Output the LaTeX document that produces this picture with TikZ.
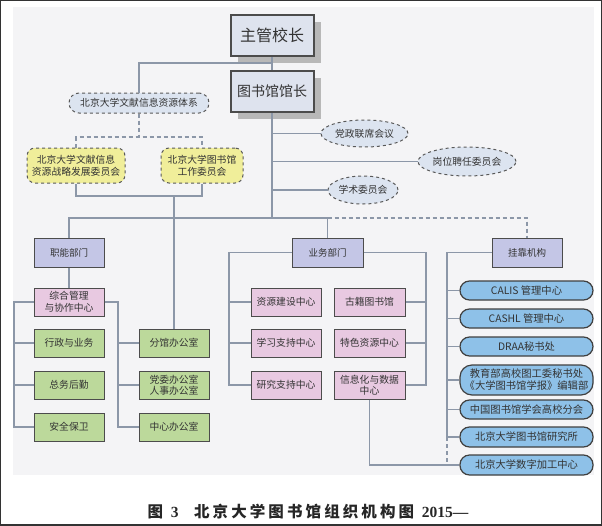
\documentclass[tikz,border=0pt]{standalone}
\usepackage{fontspec}
\setmainfont{Noto Sans CJK SC}
\newfontfamily\capnum{Liberation Serif}
\usetikzlibrary{shapes.geometric,shadows}
\definecolor{panelgray}{HTML}{F4F4F6}
\definecolor{linkgray}{HTML}{8C97A8}
\definecolor{headblue}{HTML}{DEE3EE}
\definecolor{paleblue}{HTML}{DCE4F0}
\definecolor{paleyellow}{HTML}{F0EE9A}
\definecolor{deptblue}{HTML}{C4C6E6}
\definecolor{deptpink}{HTML}{E8C9E1}
\definecolor{deptgreen}{HTML}{BCD99B}
\definecolor{pillblue}{HTML}{8EC1E8}
\definecolor{inkgray}{HTML}{333333}
\begin{document}
\begin{tikzpicture}[
        x=1pt, y=-1pt,
        font=\fontsize{9.8}{11.5}\selectfont, text=inkgray,
        link/.style={draw=linkgray, line width=1.1pt},
        dashlink/.style={link, dash pattern=on 4pt off 3pt},
        head/.style={rectangle, draw=black!70, line width=2pt, fill=headblue, minimum width=83pt, minimum height=41pt, drop shadow={shadow xshift=7pt, shadow yshift=-7pt, fill=black!28, opacity=1}},
        council/.style={ellipse, draw=black!65, dashed, line width=1pt, fill=paleblue, inner sep=0pt},
        committee/.style={rectangle, rounded corners=8pt, draw=black!65, dashed, line width=1pt, fill=paleyellow, align=center, minimum height=35pt},
        dept/.style={rectangle, draw=black!70, line width=1pt, fill=deptblue, minimum width=70pt, minimum height=29pt, font=\fontsize{9.5}{11}\selectfont},
        unit/.style={rectangle, draw=black!70, line width=1pt, minimum width=70pt, minimum height=28pt, align=center, inner sep=1pt},
        pinkunit/.style={unit, fill=deptpink},
        greenunit/.style={unit, fill=deptgreen},
        pill/.style={rectangle, rounded corners=9.5pt, draw=black!75, line width=1.2pt, fill=pillblue, minimum width=133pt, minimum height=19pt, align=center, inner sep=1pt, font=\fontsize{10.3}{12}\selectfont}
    ]
        \useasboundingbox (0,0) rectangle (602,525);
        \fill[panelgray] (13,7) rectangle (594,475);
        \draw[black!80, line width=2pt] (0,0) rectangle (602,525);

        % Leadership
        \node[head, font=\fontsize{16}{18}\selectfont] (chief) at (272,35.5) {主管校长};
        \node[head, font=\fontsize{14}{16}\selectfont] (director) at (272,91.5) {图书馆馆长};
        \node[council, minimum width=140pt, minimum height=20pt, rectangle, rounded corners=10pt] (system) at (139,103) {北京大学文献信息资源体系};
        \node[committee, minimum width=98pt] (strategy) at (76,165.5) {北京大学文献信息\\资源战略发展委员会};
        \node[committee, minimum width=82pt] (workcom) at (202,165.5) {北京大学图书馆\\工作委员会};

        % Councils beside the director
        \node[council, minimum width=87pt, minimum height=27pt] (partymeet) at (364.5,133.5) {党政联席会议};
        \node[council, minimum width=98pt, minimum height=29pt] (postcom) at (467,161.5) {岗位聘任委员会};
        \node[council, minimum width=70pt, minimum height=28pt] (acadcom) at (363,190) {学术委员会};

        % Departments
        \node[dept] (func) at (69,252.5) {职能部门};
        \node[dept, minimum width=71pt] (biz) at (327.5,252.5) {业务部门};
        \node[dept] (affil) at (527,252.5) {挂靠机构};

        % Functional units
        \node[pinkunit] (coord) at (69,302) {综合管理\\与协作中心};
        \node[greenunit] (admin) at (69,343) {行政与业务};
        \node[greenunit] (logistics) at (69,385) {总务后勤};
        \node[greenunit] (security) at (69,427) {安全保卫};
        \node[greenunit] (branch) at (174,343) {分馆办公室};
        \node[greenunit] (partyoffice) at (174,385) {党委办公室\\人事办公室};
        \node[greenunit] (centeroffice) at (174,427) {中心办公室};

        % Service units
        \node[pinkunit] (resource) at (286,302) {资源建设中心};
        \node[pinkunit] (study) at (286,343) {学习支持中心};
        \node[pinkunit] (research) at (286,385) {研究支持中心};
        \node[pinkunit, minimum width=71pt] (ancient) at (369.5,302) {古籍图书馆};
        \node[pinkunit, minimum width=71pt] (special) at (369.5,343) {特色资源中心};
        \node[pinkunit, minimum width=71pt] (infodata) at (369.5,385) {信息化与数据\\中心};

        % Affiliated bodies
        \node[pill] (calis) at (526.5,290.5) {CALIS 管理中心};
        \node[pill] (cashl) at (526.5,318.5) {CASHL 管理中心};
        \node[pill] (draa) at (526.5,346.5) {DRAA秘书处};
        \node[pill, minimum height=30pt, rounded corners=12pt] (moe) at (526.5,380) {教育部高校图工委秘书处\\《大学图书馆学报》编辑部};
        \node[pill] (csls) at (526.5,409.5) {中国图书馆学会高校分会};
        \node[pill, minimum height=20pt] (institute) at (526.5,437) {北京大学图书馆研究所};
        \node[pill, minimum height=20pt] (digital) at (526.5,465) {北京大学数字加工中心};

        % Junctions
        \coordinate (topjoin) at (272,63);
        \coordinate (sysjoin) at (139,137);
        \coordinate (comjoin) at (174,196);
        \coordinate (busmid) at (272,218);
        \coordinate (lrail) at (14,302);
        \coordinate (rrail) at (118,302);
        \coordinate (bleft) at (229,252.5);
        \coordinate (bright) at (426,252.5);
        \coordinate (arail) at (447,252.5);

        % Upper links
        \draw[link] (chief) -- (director);
        \draw[link] (topjoin) -| (system);
        \draw[dashlink] (system) -- (sysjoin);
        \draw[dashlink] (strategy.north) |- (sysjoin) -| (workcom.north);
        \draw[link] (strategy.south) |- (comjoin);
        \draw[link] (workcom.south) |- (comjoin);
        \draw[link] (comjoin) -- (branch);
        \draw[link] (director) -- (busmid);
        \draw[link] (director |- partymeet) -- (partymeet);
        \draw[link] (director |- postcom) -- (postcom);
        \draw[link] (director |- acadcom) -- (acadcom);
        \draw[link] (func.north) |- (busmid) -| (biz.north);
        \draw[dashlink] (biz.north |- busmid) -| (affil.north);

        % Functional links
        \draw[link] (func) -- (coord);
        \draw[link] (coord) -- (lrail) |- (security);
        \draw[link] (lrail |- admin) -- (admin);
        \draw[link] (lrail |- logistics) -- (logistics);
        \draw[link] (coord) -- (rrail) |- (centeroffice);
        \draw[link] (rrail |- branch) -- (branch);
        \draw[link] (rrail |- partyoffice) -- (partyoffice);

        % Service links
        \draw[link] (biz) -- (bleft) |- (research);
        \draw[link] (bleft |- resource) -- (resource);
        \draw[link] (bleft |- study) -- (study);
        \draw[link] (biz) -- (bright) |- (infodata);
        \draw[link] (bright |- ancient) -- (ancient);
        \draw[link] (bright |- special) -- (special);
        \draw[link] (infodata) |- (digital);

        % Affiliated links
        \draw[link] (affil) -- (arail) |- (institute);
        \draw[dashlink] (arail |- institute) -- (arail |- digital);
        \foreach \body in {calis,cashl,draa,moe,csls}
            \draw[link] (arail |- \body) -- (\body);

        % Caption
        \node[font=\fontsize{15.5}{17}\selectfont\bfseries, text=black!85] (caption) at (308,512)
            {\addfontfeatures{LetterSpace=20}图\enspace{\capnum 3}\quad 北京大学图书馆组织机构图\enspace{\capnum 2015—}};
\end{tikzpicture}
\end{document}
